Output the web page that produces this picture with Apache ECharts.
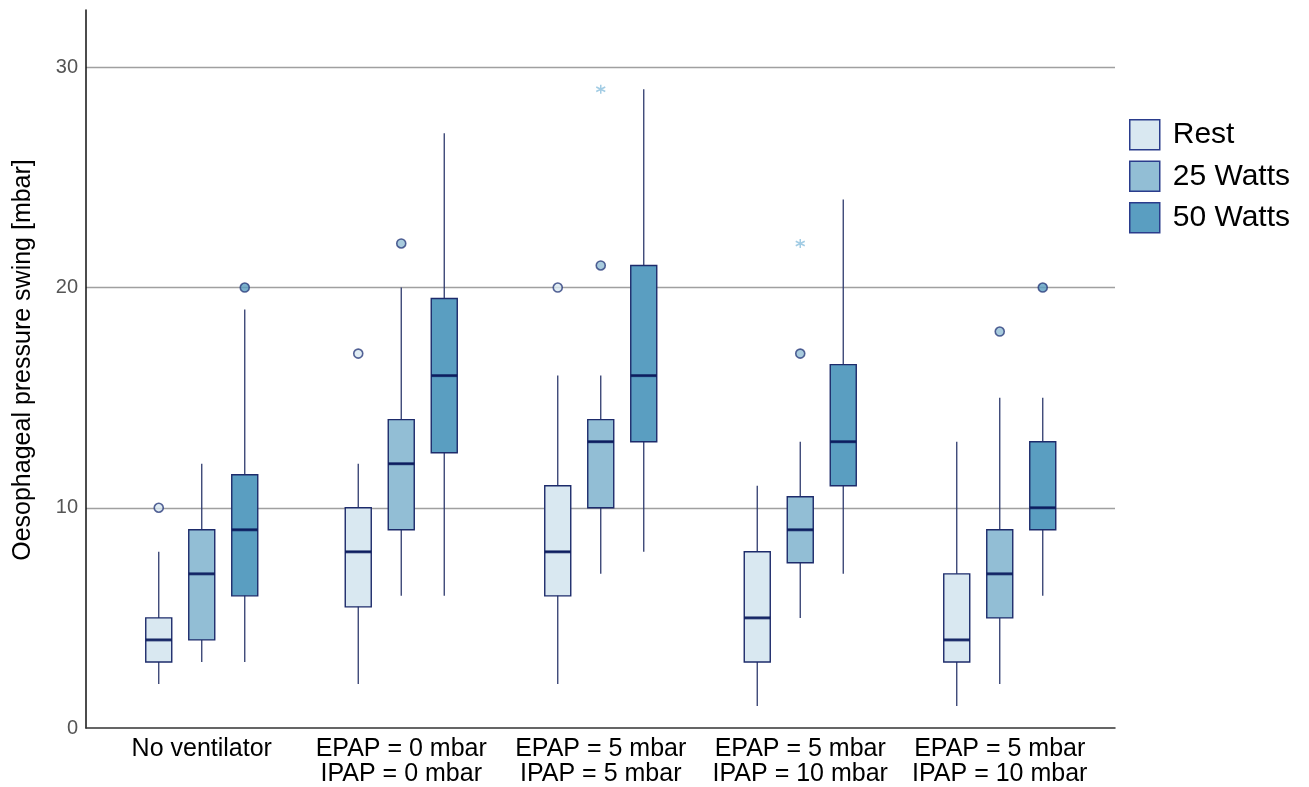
<!DOCTYPE html>
<html><head><meta charset="utf-8">
<script src="https://cdn.jsdelivr.net/npm/echarts@6/dist/echarts.min.js"></script>
<style>html,body{margin:0;padding:0;background:#fff}#c{width:1309px;height:787px}</style>
</head><body><div id="c"></div>
<script>
const categories = ['No ventilator', 'EPAP = 0 mbar\nIPAP = 0 mbar', 'EPAP = 5 mbar\nIPAP = 5 mbar', 'EPAP = 5 mbar\nIPAP = 10 mbar', 'EPAP = 5 mbar\nIPAP = 10 mbar'];
const groupNames = ['Rest', '25 Watts', '50 Watts'];
// [lower whisker, Q1, median, Q3, upper whisker]
const restBox = [[2,3,4,5,8],[2,5.5,8,10,12],[2,6,8,11,16],[1,3,5,8,11],[1,3,4,7,13]];
const watts25Box = [[3,4,7,9,12],[6,9,12,14,20],[7,10,13,14,16],[5,7.5,9,10.5,13],[2,5,7,9,15]];
const watts50Box = [[3,6,9,11.5,19],[6,12.5,16,19.5,27],[8,13,16,21,29],[7,11,13,16.5,24],[6,9,10,13,15]];
// outliers [categoryIndex, value]
const restOutliers = [[0,10],[1,17],[2,20]];
const watts25Outliers = [[1,22],[2,21],[3,17],[4,18]];
const watts50Outliers = [[0,20],[4,20]];
const restExtremes = [];
const watts25Extremes = [[2,29],[3,22]];
const watts50Extremes = [];
const yMin = 0, yMax = 32.6, yStep = 10;

const FONT = 'Liberation Sans, Arial, sans-serif';
const fills = ['#d9e8f1', '#92bed5', '#5a9ec1'];
const border = '#1d2b6b';
const boxes = [restBox, watts25Box, watts50Box];
const outs = [restOutliers, watts25Outliers, watts50Outliers];
const exts = [restExtremes, watts25Extremes, watts50Extremes];
const idx = categories.map((_, i) => i);

const grids = [
  {left: 86, right: 194, top: 10, bottom: 59},
  {left: 59, right: 252.5, top: 10, bottom: 59},
  {left: 102, right: 209.5, top: 10, bottom: 59},
  {left: 145, right: 166.5, top: 10, bottom: 59}
];
const xAxes = [];
const yAxes = [];
grids.forEach((g, gi) => {
  // one x axis for boxes (index gi), plus a second hidden one for whiskers
  xAxes.push({
    gridIndex: gi, type: 'category', data: idx, boundaryGap: true,
    axisLine: {show: gi === 0, lineStyle: {color: '#333', width: 1.5}},
    axisTick: {show: false},
    splitLine: {show: false},
    axisLabel: {show: gi === 2, interval: 0, margin: 9, fontFamily: FONT, fontSize: 25, lineHeight: 25, color: '#000',
      formatter: v => categories[+v]}
  });
  yAxes.push({
    gridIndex: gi, type: 'value', min: yMin, max: yMax, interval: yStep,
    show: gi === 0,
    name: gi === 0 ? 'Oesophageal pressure swing [mbar]' : '',
    nameLocation: 'middle', nameGap: 50,
    nameTextStyle: {fontFamily: FONT, fontSize: 25, color: '#000', padding: [0, 0, 0, 18]},
    axisLine: {show: true, lineStyle: {color: '#111', width: 1.5}},
    axisTick: {show: false},
    axisLabel: {show: gi === 0, showMaxLabel: false, margin: 8, fontFamily: FONT, fontSize: 20, color: '#555'},
    splitLine: {show: gi === 0, showMinLine: false, showMaxLine: false, lineStyle: {color: '#a0a0a0', width: 1.3}}
  });
});
// whisker axes: indices 4,5,6 for grids 1,2,3
[1, 2, 3].forEach(gi => {
  xAxes.push({gridIndex: gi, type: 'category', data: idx, boundaryGap: true, show: false});
});

const series = [];
groupNames.forEach((name, k) => {
  const ax = k + 1;
  const wax = k + 4;
  // whiskers (zero-width boxplot => plain vertical line, no caps)
  series.push({
    type: 'boxplot', xAxisIndex: wax, yAxisIndex: ax,
    data: boxes[k], boxWidth: [0, 0], z: 1, silent: true,
    itemStyle: {color: 'rgba(0,0,0,0)', borderColor: '#2f3b6e', borderWidth: 1.3}
  });
  // box (Q1..Q3 only)
  series.push({
    name: name, type: 'boxplot', xAxisIndex: ax, yAxisIndex: ax,
    data: boxes[k].map(d => [d[1], d[1], d[2], d[3], d[3]]), boxWidth: [26, 26], z: 2, silent: true,
    itemStyle: {color: fills[k], borderColor: border, borderWidth: 1.4}
  });
  series.push({
    type: 'scatter', xAxisIndex: ax, yAxisIndex: ax, z: 4, silent: true,
    data: boxes[k].map((d, i) => [i, d[2]]),
    symbol: 'rect', symbolSize: [26, 3],
    itemStyle: {color: '#0a1a5c'}
  });
  series.push({
    type: 'scatter', xAxisIndex: ax, yAxisIndex: ax, z: 5, silent: true,
    data: outs[k], symbol: 'circle', symbolSize: 9,
    itemStyle: {color: fills[k], borderColor: '#2a3c7c', borderWidth: 1.6}
  });
  series.push({
    type: 'scatter', xAxisIndex: ax, yAxisIndex: ax, z: 5, silent: true,
    data: exts[k], symbol: 'path://M5,0L5,10M0.67,2.5L9.33,7.5M0.67,7.5L9.33,2.5', symbolSize: 9,
    itemStyle: {color: 'rgba(0,0,0,0)', borderColor: '#8bbfdd', borderWidth: 1.5}
  });
});

const chart = echarts.init(document.getElementById('c'));
chart.setOption({
  animation: false,
  backgroundColor: '#fff',
  grid: grids,
  xAxis: xAxes,
  yAxis: yAxes,
  legend: {
    orient: 'vertical', left: 1129, top: 119, padding: 0,
    itemWidth: 30, itemHeight: 30, itemGap: 10,
    textStyle: {fontFamily: FONT, fontSize: 30, color: '#000', padding: [0, 0, 0, 8], lineHeight: 30},
    selectedMode: false,
    data: groupNames.map((n, k) => ({name: n, icon: 'rect',
      itemStyle: {color: fills[k], borderColor: '#2a3c8c', borderWidth: 1.5}}))
  },
  series: series
});
</script>
</body></html>
